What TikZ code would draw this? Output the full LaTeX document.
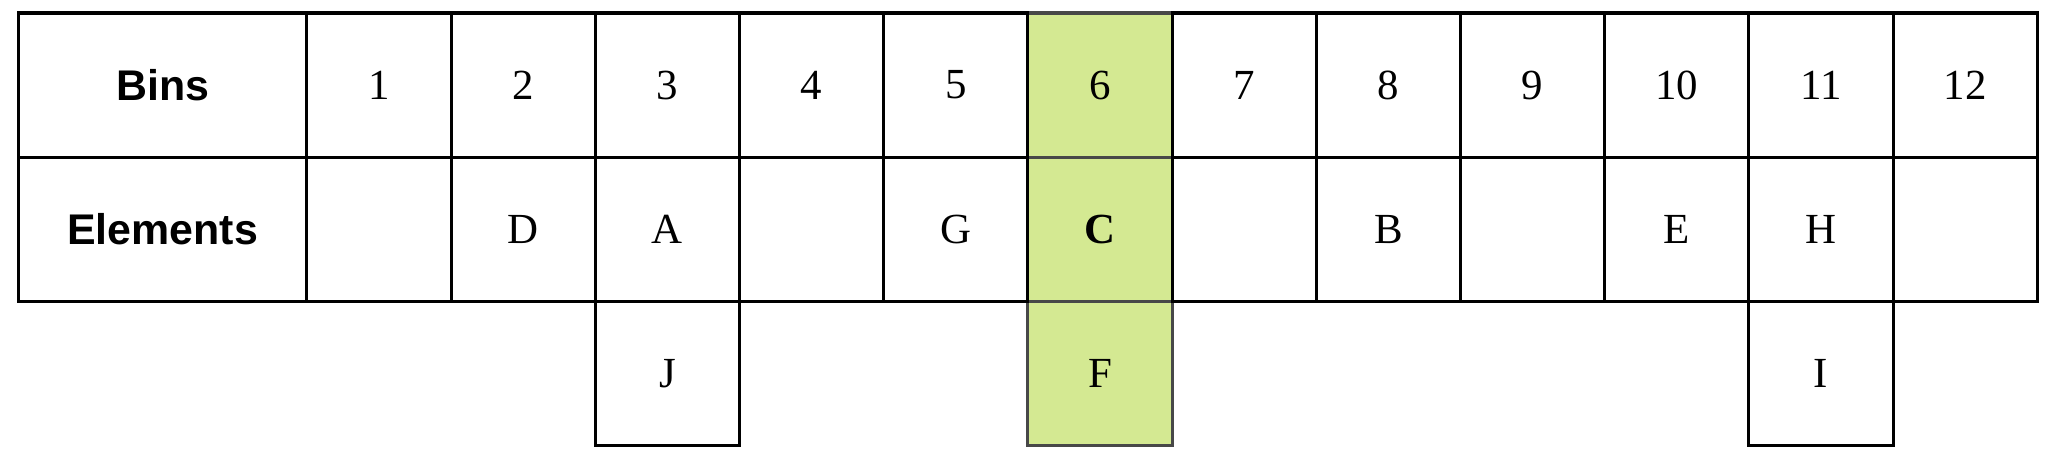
\documentclass[tikz,border=0pt]{standalone}
\usepackage{fontspec}
\setmainfont{Liberation Serif}
\newfontfamily\headfont{Liberation Sans}
\usepackage{xcolor}
\definecolor{binsgreen}{RGB}{212,233,146}
\definecolor{binsgray}{RGB}{72,72,72}

\begin{document}
\begin{tikzpicture}[x=1.5cm, y=1.5cm]
  \tikzstyle{mycell}=[draw, line width=0.9pt, minimum width=1.5cm, minimum height=1.5cm,
    inner sep=0pt, outer sep=0pt, anchor=north west, font=\fontsize{12.7}{15}\selectfont];
  \tikzstyle{myhead}=[mycell, minimum width=3cm, font=\fontsize{12.7}{15}\selectfont\headfont\bfseries];
  \tikzstyle{myhigh}=[mycell, fill=binsgreen, draw=binsgray];
  \useasboundingbox (-0.128, 0.09) rectangle (14.13, -3.176);
  %
  % highlighted bin
  \node[myhigh] (bin6) at (7, 0) {6};
  \node[myhigh] (el6) at (7, -1) {\textbf{C}};
  \node[myhigh] (ex6) at (7, -2) {F};
  %
  % header column
  \node[myhead] (bins) at (0, 0) {Bins};
  \node[myhead] (elems) at (0, -1) {Elements};
  %
  % remaining bins
  \foreach \i/\el in {1/, 2/D, 3/A, 4/, 5/G, 7/, 8/B, 9/, 10/E, 11/H, 12/} {
    \node[mycell] (bin\i) at (\i+1, 0) {\i};
    \node[mycell] (el\i) at (\i+1, -1) {\el};
  }
  %
  % overflow
  \node[mycell] (ex3) at (4, -2) {J};
  \node[mycell] (ex11) at (12, -2) {I};
\end{tikzpicture}
\end{document}
